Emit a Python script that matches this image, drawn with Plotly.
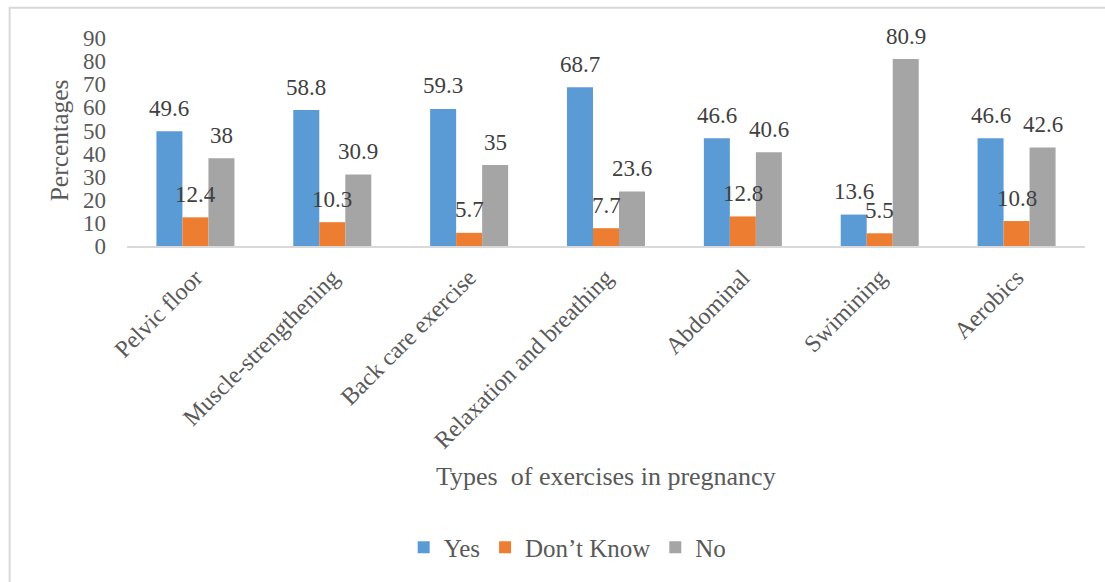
import plotly.graph_objects as go

# Share of respondents by exercise type and answer
categories = ["Pelvic floor", "Muscle-strengthening", "Back care exercise",
              "Relaxation and breathing", "Abdominal", "Swimining", "Aerobics"]
yes_vals = [49.6, 58.8, 59.3, 68.7, 46.6, 13.6, 46.6]
dont_know_vals = [12.4, 10.3, 5.7, 7.7, 12.8, 5.5, 10.8]
no_vals = [38, 30.9, 35, 23.6, 40.6, 80.9, 42.6]
y_ticks = [0, 10, 20, 30, 40, 50, 60, 70, 80, 90]

series = [
    ("Yes", yes_vals, "#5B9BD5"),
    ("Don\u2019t Know", dont_know_vals, "#ED7D31"),
    ("No", no_vals, "#A5A5A5"),
]

FONT = "Liberation Serif"
TEXT = "#595959"
BARGAP = 0.43
bar_w = (1 - BARGAP) / len(series)

fig = go.Figure()
for name, vals, color in series:
    fig.add_trace(go.Bar(
        x=categories, y=vals, name=name,
        marker=dict(color=color, line=dict(width=0)),
    ))

# Value labels above each bar
annotations = []
for s_idx, (name, vals, color) in enumerate(series):
    offset = (s_idx - 1) * bar_w
    for c_idx, v in enumerate(vals):
        annotations.append(dict(
            x=c_idx + offset, y=v, xref="x", yref="y",
            text=f"{v:g}", showarrow=False,
            yanchor="middle", yshift=23,
            font=dict(family=FONT, size=23, color="#404040"),
        ))

# Axis titles
annotations.append(dict(
    x=0.5, y=-1.11, xref="paper", yref="paper",
    text="Types\u00a0 of exercises in pregnancy", showarrow=False,
    xanchor="center", yanchor="middle",
    font=dict(family=FONT, size=26, color=TEXT),
))
annotations.append(dict(
    x=-0.0704, y=0.506, xref="paper", yref="paper",
    text="Percentages", showarrow=False, textangle=-90,
    xanchor="center", yanchor="middle",
    font=dict(family=FONT, size=25.5, color=TEXT),
))

fig.update_layout(
    width=1105, height=582,
    margin=dict(l=126.5, r=19.5, t=38, b=335.5),
    paper_bgcolor="white", plot_bgcolor="white",
    barmode="group", bargap=BARGAP, bargroupgap=0,
    font=dict(family=FONT, size=22, color=TEXT),
    annotations=annotations,
    legend=dict(
        orientation="h", x=0.46, y=-1.45,
        xanchor="center", yanchor="middle",
        font=dict(family=FONT, size=25, color=TEXT),
        bgcolor="rgba(0,0,0,0)",
    ),
    shapes=[dict(
        type="rect", xref="paper", yref="paper",
        x0=-0.1225, x1=1.2, y0=-1.8, y1=1.146,
        line=dict(color="#D9D9D9", width=2),
        fillcolor="rgba(0,0,0,0)", layer="below",
    )],
)

fig.update_xaxes(
    type="category", range=[-0.5, len(categories) - 0.5],
    tickangle=-45, showgrid=False, showline=True,
    linecolor="#D9D9D9", linewidth=2, ticks="",
    tickfont=dict(family=FONT, size=24, color=TEXT),
    ticklabelstandoff=6,
)
fig.update_yaxes(
    range=[0, 90], tickvals=y_ticks, showgrid=False,
    zeroline=False, showline=False, ticks="",
    tickfont=dict(family=FONT, size=23, color=TEXT),
    ticklabelstandoff=20,
)

fig.write_html("out.html")
